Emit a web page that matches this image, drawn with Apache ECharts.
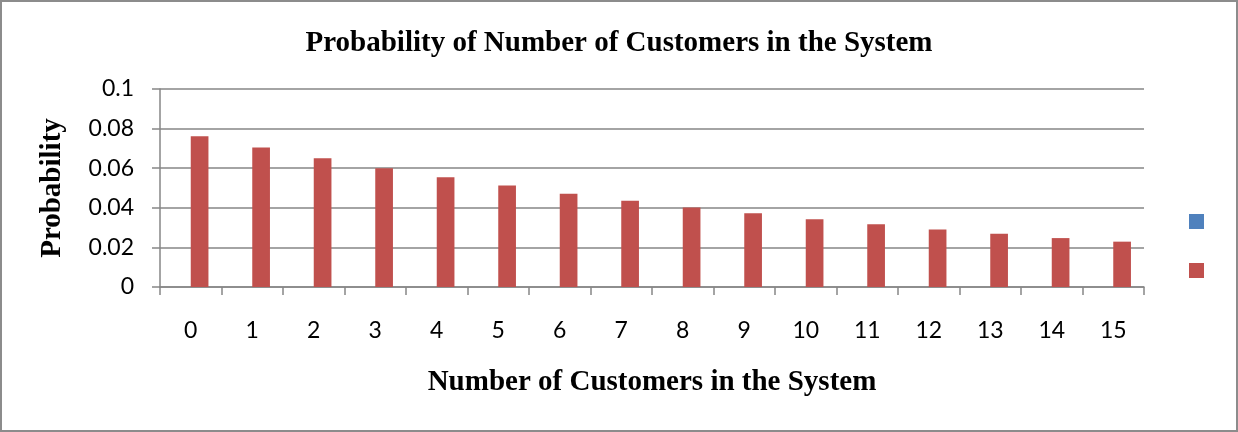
<!DOCTYPE html>
<html>
<head>
<meta charset="utf-8">
<script src="https://cdn.jsdelivr.net/npm/echarts@6/dist/echarts.min.js"></script>
<style>
html, body { margin: 0; padding: 0; background: #fff; }
#chart {
    width: 1238px;
    height: 432px;
    box-sizing: border-box;
    border: 2px solid #8c8c8c;
}
</style>
</head>
<body>
<div id="chart"></div>
<script>
// number of customers
const categories = ["0", "1", "2", "3", "4", "5", "6", "7", "8", "9", "10", "11", "12", "13", "14", "15"]
// first series is empty in the source chart
const series1Values = [null, null, null, null, null, null, null, null, null, null, null, null, null, null, null, null]
const probValues = [0.0761, 0.0704, 0.0650, 0.0600, 0.0554, 0.0512, 0.0471, 0.0436, 0.0402, 0.0372, 0.0342, 0.0317, 0.0291, 0.0269, 0.0247, 0.0229]

const serif = "'Liberation Serif', 'Times New Roman', serif"
const sans = "Lato, 'Open Sans', sans-serif"
const gray = "#868686"

const chart = echarts.init(document.getElementById("chart"), null, { renderer: "canvas" })

const option = {
    animation: false,
    title: {
        text: "Probability of Number of Customers in the System",
        left: "center",
        top: 22,
        textStyle: {
            fontFamily: serif,
            fontWeight: "bold",
            fontSize: 29,
            color: "#000",
        },
    },
    legend: {
        orient: "vertical",
        right: 27,
        top: 207,
        itemWidth: 15,
        itemHeight: 15,
        itemGap: 34,
        formatter: () => "",
        selectedMode: false,
        data: [
            { name: "Series1", icon: "rect" },
            { name: "Series2", icon: "rect" },
        ],
    },
    grid: {
        left: 158,
        right: 92,
        top: 87,
        bottom: 143,
    },
    xAxis: {
        type: "category",
        data: categories,
        name: "Number of Customers in the System",
        nameLocation: "middle",
        nameGap: 81,
        nameTextStyle: {
            fontFamily: serif,
            fontWeight: "bold",
            fontSize: 29,
            color: "#000",
        },
        axisLine: { lineStyle: { color: gray, width: 1.5 } },
        axisTick: { show: true, length: 8, lineStyle: { color: gray, width: 1.5 } },
        axisLabel: {
            margin: 32,
            fontFamily: sans,
            fontSize: 23,
            color: "#000",
        },
    },
    yAxis: {
        type: "value",
        min: 0,
        max: 0.1,
        interval: 0.02,
        name: "Probability",
        nameLocation: "middle",
        nameGap: 93,
        nameRotate: 90,
        nameTextStyle: {
            fontFamily: serif,
            fontWeight: "bold",
            fontSize: 29,
            color: "#000",
        },
        axisLine: { show: true, lineStyle: { color: gray, width: 1.5 } },
        axisTick: { show: true, length: 8, lineStyle: { color: gray, width: 1.5 } },
        axisLabel: {
            margin: 26,
            fontFamily: sans,
            fontSize: 23,
            color: "#000",
        },
        splitLine: { lineStyle: { color: gray, width: 1.5 } },
    },
    series: [
        {
            name: "Series1",
            type: "bar",
            data: series1Values,
            barWidth: 17.7,
            barGap: "0%",
            itemStyle: { color: "#4F81BD" },
        },
        {
            name: "Series2",
            type: "bar",
            data: probValues,
            barWidth: 17.7,
            barGap: "0%",
            itemStyle: { color: "#C0504D" },
        },
    ],
}

chart.setOption(option)
</script>
</body>
</html>
